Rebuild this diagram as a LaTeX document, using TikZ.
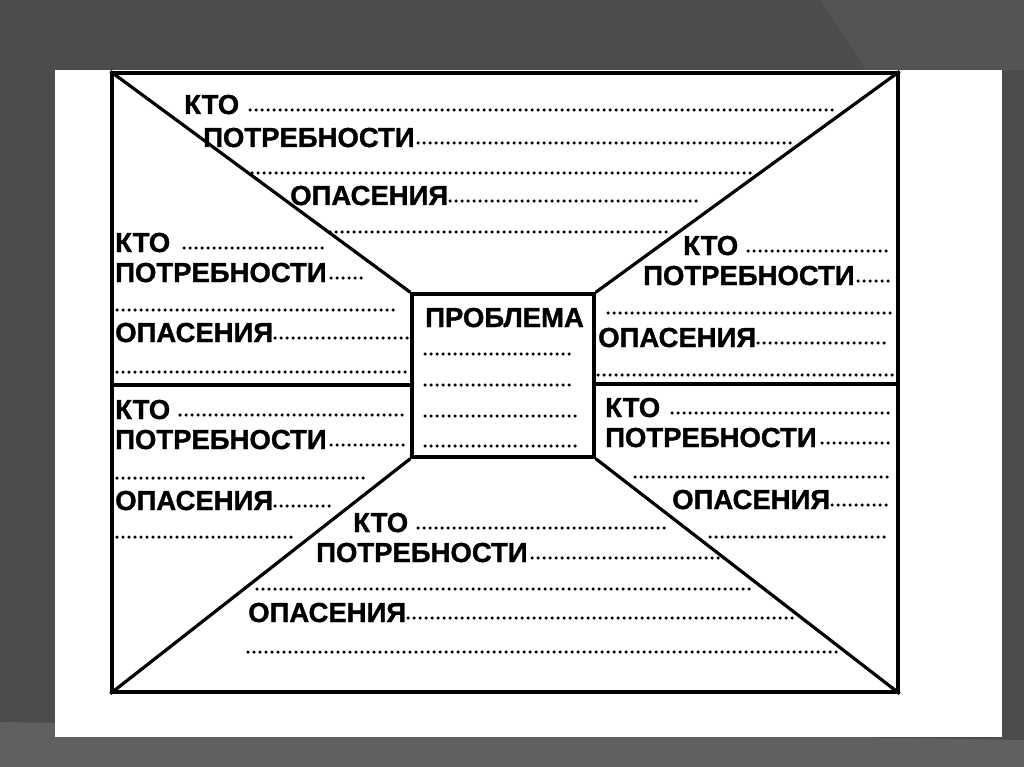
\documentclass[tikz,border=0pt]{standalone}
\usepackage{fontspec}
\setmainfont{Liberation Sans}[FakeBold=1.2]
\begin{document}
\begin{tikzpicture}[x=1pt,y=-1pt,
  lbl/.style={anchor=base west,inner sep=0pt,yshift=-2pt,font=\fontsize{27.5}{27.5}\selectfont\bfseries},
  dl/.style={line width=3.5pt,dash pattern=on 0pt off 6pt,line cap=round},
  frm/.style={draw,line width=3.4pt,inner sep=0pt}]
\useasboundingbox (0,0) rectangle (1024,767);
% background
\fill[fill={rgb,255:red,76;green,76;blue,76}] (0,0) rectangle (1024,767);
\fill[fill={rgb,255:red,84;green,84;blue,84}] (820,0) -- (1024,0) -- (1024,70) -- (866,70) -- cycle;
\fill[fill={rgb,255:red,96;green,96;blue,96}] (0,722) -- (1024,740) -- (1024,767) -- (0,767) -- cycle;
\fill[white] (55,70) rectangle (1002,737);
% frame and square
\node[frm,minimum width=786pt,minimum height=619pt] (frame) at (505,382.5) {};
\node[frm,minimum width=182pt,minimum height=163pt] (sq) at (503,375.5) {};
\draw[line width=3.2pt] (frame.north west) -- (sq.north west);
\draw[line width=3.2pt] (frame.north east) -- (sq.north east);
\draw[line width=3.2pt] (frame.south west) -- (sq.south west);
\draw[line width=3.2pt] (frame.south east) -- (sq.south east);
\coordinate (hl) at (frame.west |- 0,385);
\coordinate (hr) at (frame.east |- 0,384);
\draw[line width=3.2pt] (hl) -- (sq.west |- hl);
\draw[line width=3.2pt] (sq.east |- hr) -- (hr);
% top
\node[lbl] (t1) at (184,112) {КТО};
\draw[dl] (250,110) -- (832,110);
\node[lbl] (t2) at (203,145) {ПОТРЕБНОСТИ};
\draw[dl] (418,143) -- (790,143);
\draw[dl] (252,173) -- (750,173);
\node[lbl] (t3) at (290,203) {ОПАСЕНИЯ};
\draw[dl] (450,201) -- (700,201);
\draw[dl] (330,232) -- (667,232);
% left upper
\node[lbl] (a1) at (115,250) {КТО};
\draw[dl] (184,248) -- (323,248);
\node[lbl] (a2) at (115,280) {ПОТРЕБНОСТИ};
\draw[dl] (331,278) -- (362,278);
\draw[dl] (117,310) -- (393,310);
\node[lbl] (a3) at (115,340) {ОПАСЕНИЯ};
\draw[dl] (275,338) -- (407,338);
\draw[dl] (117,372) -- (407,372);
% right upper
\node[lbl] (b1) at (683,253) {КТО};
\draw[dl] (748,251) -- (890,251);
\node[lbl] (b2) at (643,283) {ПОТРЕБНОСТИ};
\draw[dl] (858,281) -- (893,281);
\draw[dl] (608,313) -- (893,313);
\node[lbl] (b3) at (598,345) {ОПАСЕНИЯ};
\draw[dl] (758,343) -- (885,343);
\draw[dl] (598,375) -- (893,375);
% left lower
\node[lbl] (c1) at (115,417) {КТО};
\draw[dl] (180,415) -- (405,415);
\node[lbl] (c2) at (115,447) {ПОТРЕБНОСТИ};
\draw[dl] (331,445) -- (405,445);
\draw[dl] (117,478) -- (365,478);
\node[lbl] (c3) at (115,508) {ОПАСЕНИЯ};
\draw[dl] (275,506) -- (330,506);
\draw[dl] (117,537) -- (295,537);
% right lower
\node[lbl] (d1) at (605,415) {КТО};
\draw[dl] (672,413) -- (893,413);
\node[lbl] (d2) at (605,445) {ПОТРЕБНОСТИ};
\draw[dl] (822,443) -- (890,443);
\draw[dl] (635,477) -- (888,477);
\node[lbl] (d3) at (672,507) {ОПАСЕНИЯ};
\draw[dl] (832,505) -- (888,505);
\draw[dl] (710,537) -- (888,537);
% bottom
\node[lbl] (e1) at (353,530) {КТО};
\draw[dl] (418,528) -- (667,528);
\node[lbl] (e2) at (316,560) {ПОТРЕБНОСТИ};
\draw[dl] (532,558) -- (727,558);
\draw[dl] (257,589) -- (752,589);
\node[lbl] (e3) at (248,620) {ОПАСЕНИЯ};
\draw[dl] (408,618) -- (795,618);
\draw[dl] (248,652) -- (840,652);
% square
\node[lbl] (p) at (425,325) {ПРОБЛЕМА};
\draw[dl] (425,354) -- (572,354);
\draw[dl] (425,385) -- (572,385);
\draw[dl] (425,416) -- (580,416);
\draw[dl] (425,446) -- (580,446);
\end{tikzpicture}
\end{document}
